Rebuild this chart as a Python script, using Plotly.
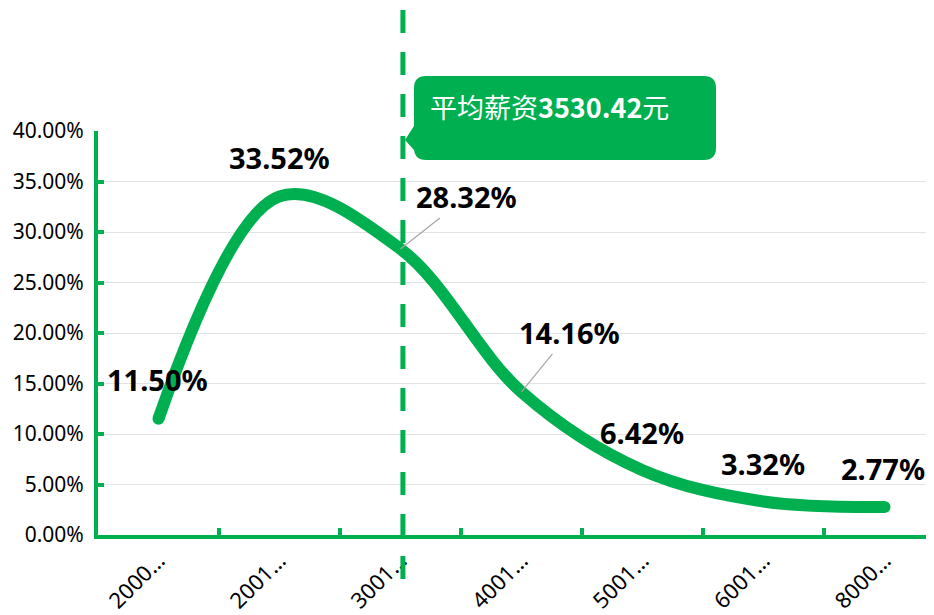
import plotly.graph_objects as go

categories = ["2000…", "2001…", "3001…", "4001…", "5001…", "6001…", "8000…"]
shares = [0.1150, 0.3352, 0.2832, 0.1416, 0.0642, 0.0332, 0.0277]
avg_salary = 3530.42
avg_pos = 2.02  # position of average marker along category axis

GREEN = "#00b050"
OFF = 8  # page body margin
W, H = 926, 607
L, R, T, B = 90, 0, 123, 80
PW, PH = W - L - R, H - T - B
CAT_W = 121.0

def px(sx):
    return (sx - OFF - L) / PW

def py(sy):
    return (H - B - (sy - OFF)) / PH

n = len(categories)
cap_sizes = [12 if i in (0, n - 1) else 0 for i in range(n)]

fig = go.Figure()
fig.add_trace(go.Scatter(
    x=list(range(n)), y=shares, mode="lines+markers",
    line=dict(color=GREEN, width=12, shape="spline", smoothing=1.0),
    marker=dict(color=GREEN, size=cap_sizes, opacity=1, line=dict(width=0, color=GREEN)),
    hoverinfo="skip", showlegend=False,
))

label_cfg = [
    dict(xshift=-1, yshift=39),
    dict(xshift=0, yshift=39),
    dict(arrow=(66, -52)),
    dict(arrow=(48, -59)),
    dict(xshift=-1, yshift=38),
    dict(xshift=-1, yshift=38),
    dict(xshift=-2, yshift=39),
]
annotations = []
for i, (v, cfg) in enumerate(zip(shares, label_cfg)):
    txt = f"{v*100:.2f}%"
    base = dict(x=i, y=v, xref="x", yref="y", text=f"<b>{txt}</b>",
                font=dict(family="Noto Sans, Open Sans, sans-serif", size=29, color="#000000"))
    if "arrow" in cfg:
        ax, ay = cfg["arrow"]
        base.update(showarrow=True, ax=ax, ay=ay, arrowhead=0, arrowwidth=1.2,
                    arrowcolor="#a6a6a6", standoff=0)
    else:
        base.update(showarrow=False, xshift=cfg["xshift"], yshift=cfg["yshift"])
    annotations.append(base)

annotations.append(dict(
    x=px(428), y=py(107), xref="paper", yref="paper", xanchor="left", yanchor="middle",
    showarrow=False,
    text=f"平均薪资<b>{avg_salary:.2f}</b>元",
    font=dict(family="Noto Sans CJK SC, sans-serif", size=27, color="#ffffff"),
))

x0, x1, y0, y1, r = 414, 716, 76, 160, 12
pts = [
    ("M", (x0 + r, y0)), ("L", (x1 - r, y0)), ("Q", (x1, y0), (x1, y0 + r)),
    ("L", (x1, y1 - r)), ("Q", (x1, y1), (x1 - r, y1)),
    ("L", (x0 + r, y1)), ("Q", (x0, y1), (x0, y1 - r)),
    ("L", (x0, 150)), ("L", (405, 140)), ("L", (x0, 126)),
    ("L", (x0, y0 + r)), ("Q", (x0, y0), (x0 + r, y0)),
]
path = ""
for item in pts:
    cmd = item[0]
    coords = " ".join(f"{px(a):.5f},{py(b):.5f}" for a, b in item[1:])
    path += f"{cmd} {coords} "
path += "Z"

shapes = [
    dict(type="path", path=path, xref="paper", yref="paper",
         fillcolor=GREEN, line=dict(width=0), layer="above"),
    dict(type="line", xref="x", yref="paper", x0=avg_pos, x1=avg_pos,
         y0=py(10), y1=py(580), line=dict(color=GREEN, width=5, dash="23px,19px"),
         layer="above"),
]

fig.update_layout(
    width=W, height=H,
    margin=dict(l=L, r=R, t=T, b=B),
    paper_bgcolor="#ffffff", plot_bgcolor="#ffffff",
    annotations=annotations, shapes=shapes,
    font=dict(family="Noto Sans, Open Sans, sans-serif", color="#000000"),
)
fig.update_xaxes(
    type="category", tickvals=list(range(n)), ticktext=categories,
    range=[-0.5, -0.5 + PW / CAT_W],
    tickson="boundaries", ticks="inside", ticklen=7, tickwidth=4, tickcolor=GREEN,
    showline=True, linecolor=GREEN, linewidth=4, showgrid=False, zeroline=False,
    tickangle=-45, tickfont=dict(size=22, color="#000000"),
)
fig.update_yaxes(
    range=[0, 0.40], dtick=0.05, tickformat=".2%",
    ticks="inside", ticklen=6, tickwidth=4, tickcolor=GREEN,
    showline=True, linecolor=GREEN, linewidth=4,
    showgrid=True, gridcolor="#e3e3e3", gridwidth=1, zeroline=False,
    tickfont=dict(size=21, color="#000000"), ticklabelstandoff=6,
)

fig.write_html("out.html")
